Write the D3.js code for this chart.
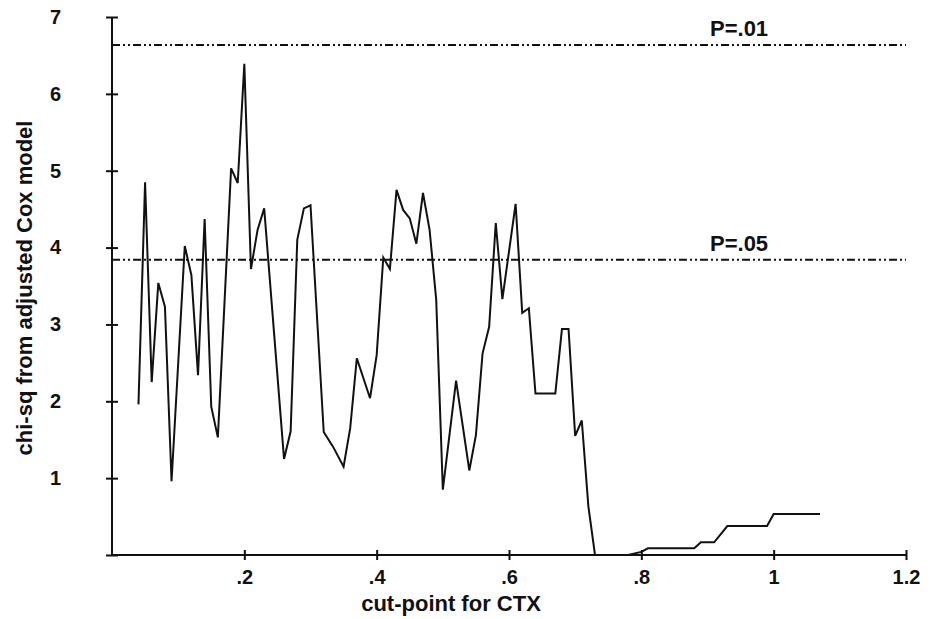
<!DOCTYPE html>
<html>
<head>
<meta charset="utf-8">
<script src="https://cdn.jsdelivr.net/npm/d3@7"></script>
<style>
  html, body { margin: 0; padding: 0; background: #fff; }
  svg { display: block; font-family: "Liberation Sans", Arial, sans-serif; font-weight: bold; }
</style>
</head>
<body>
<svg id="chart" width="932" height="619"></svg>
<script>
// ---- data ----
const cutPoints = [0.04,0.05,0.06,0.07,0.08,0.09,0.11,0.12,0.13,0.14,0.15,0.16,0.18,0.19,0.20,0.21,0.22,0.23,0.26,0.27,0.28,0.29,0.30,0.32,0.334,0.35,0.36,0.37,0.39,0.40,0.41,0.42,0.43,0.44,0.45,0.46,0.47,0.48,0.49,0.50,0.52,0.54,0.55,0.56,0.57,0.58,0.59,0.61,0.62,0.63,0.64,0.67,0.68,0.69,0.70,0.71,0.72,0.73,0.78,0.80,0.81,0.88,0.89,0.91,0.93,0.99,1.00,1.07];
const chiSq = [1.96,4.85,2.25,3.54,3.23,0.96,4.02,3.64,2.34,4.37,1.93,1.53,5.03,4.84,6.39,3.72,4.23,4.51,1.25,1.61,4.10,4.51,4.55,1.60,1.41,1.15,1.65,2.56,2.04,2.60,3.87,3.72,4.75,4.49,4.38,4.05,4.71,4.23,3.32,0.85,2.27,1.10,1.56,2.62,2.97,4.32,3.33,4.57,3.15,3.21,2.10,2.10,2.94,2.94,1.55,1.75,0.63,0,0,0.04,0.087,0.087,0.165,0.165,0.377,0.377,0.533,0.533];
const xTicks = [0.2,0.4,0.6,0.8,1.0,1.2];
const xTickLabels = [".2",".4",".6",".8","1","1.2"];
const yTicks = [0,1,2,3,4,5,6,7];
const yTickLabels = ["","1","2","3","4","5","6","7"];
const refValues = [6.635, 3.841];
const refLabels = ["P=.01", "P=.05"];
const xTitle = "cut-point for CTX";
const yTitle = "chi-sq from adjusted Cox model";

// ---- layout ----
const svg = d3.select("#chart");
const x = d3.scaleLinear().domain([0, 1.2]).range([112, 906]);
const y = d3.scaleLinear().domain([0, 7]).range([555, 17]);

// reference lines
svg.selectAll("line.ref").data(refValues).enter().append("line")
  .attr("class", "ref")
  .attr("x1", x(0)).attr("x2", x(1.2))
  .attr("y1", d => y(d)).attr("y2", d => y(d))
  .attr("stroke", "#111").attr("stroke-width", 2)
  .attr("stroke-dasharray", "8,3,2,3,2,3");

svg.selectAll("text.ref").data(refLabels).enter().append("text")
  .attr("class", "ref")
  .attr("x", 710).attr("y", (d, i) => y(refValues[i]) - 9)
  .attr("font-size", 22).attr("fill", "#111")
  .text(d => d);

// x axis
const xAxis = d3.axisBottom(x).tickValues(xTicks)
  .tickFormat((d, i) => xTickLabels[i]).tickSize(5).tickPadding(10);
const gx = svg.append("g").attr("transform", `translate(0,${y(0)})`).call(xAxis);
gx.select(".domain").attr("d", `M${x(0)},0H${x(1.2)}`).attr("stroke", "#111").attr("stroke-width", 2);
gx.selectAll(".tick line").attr("y1", -5).attr("y2", 5).attr("stroke", "#111").attr("stroke-width", 2);
gx.selectAll(".tick text").attr("font-size", 20).attr("font-family", "Liberation Sans, Arial, sans-serif")
  .attr("font-weight", "bold").attr("fill", "#111");

// y axis
const yAxis = d3.axisLeft(y).tickValues(yTicks)
  .tickFormat((d, i) => yTickLabels[i]).tickSize(6).tickPadding(45);
const gy = svg.append("g").attr("transform", `translate(${x(0)},0)`).call(yAxis);
gy.select(".domain").attr("d", `M0,${y(0)}V${y(7)}`).attr("stroke", "#111").attr("stroke-width", 2);
gy.selectAll(".tick line").attr("x1", -6).attr("x2", 6).attr("stroke", "#111").attr("stroke-width", 2);
gy.selectAll(".tick text").attr("font-size", 20).attr("font-family", "Liberation Sans, Arial, sans-serif")
  .attr("font-weight", "bold").attr("fill", "#111");

// titles
svg.append("text").attr("x", 451).attr("y", 611).attr("text-anchor", "middle")
  .attr("font-size", 22).attr("fill", "#111").text(xTitle);
svg.append("text").attr("transform", `translate(32,288) rotate(-90)`).attr("text-anchor", "middle")
  .attr("font-size", 22).attr("fill", "#111").text(yTitle);

// data line
const pts = cutPoints.map((c, i) => [c, chiSq[i]]);
svg.append("path").datum(pts)
  .attr("fill", "none").attr("stroke", "#111").attr("stroke-width", 2)
  .attr("stroke-linejoin", "miter")
  .attr("d", d3.line().x(d => x(d[0])).y(d => y(d[1])));
</script>
</body>
</html>
